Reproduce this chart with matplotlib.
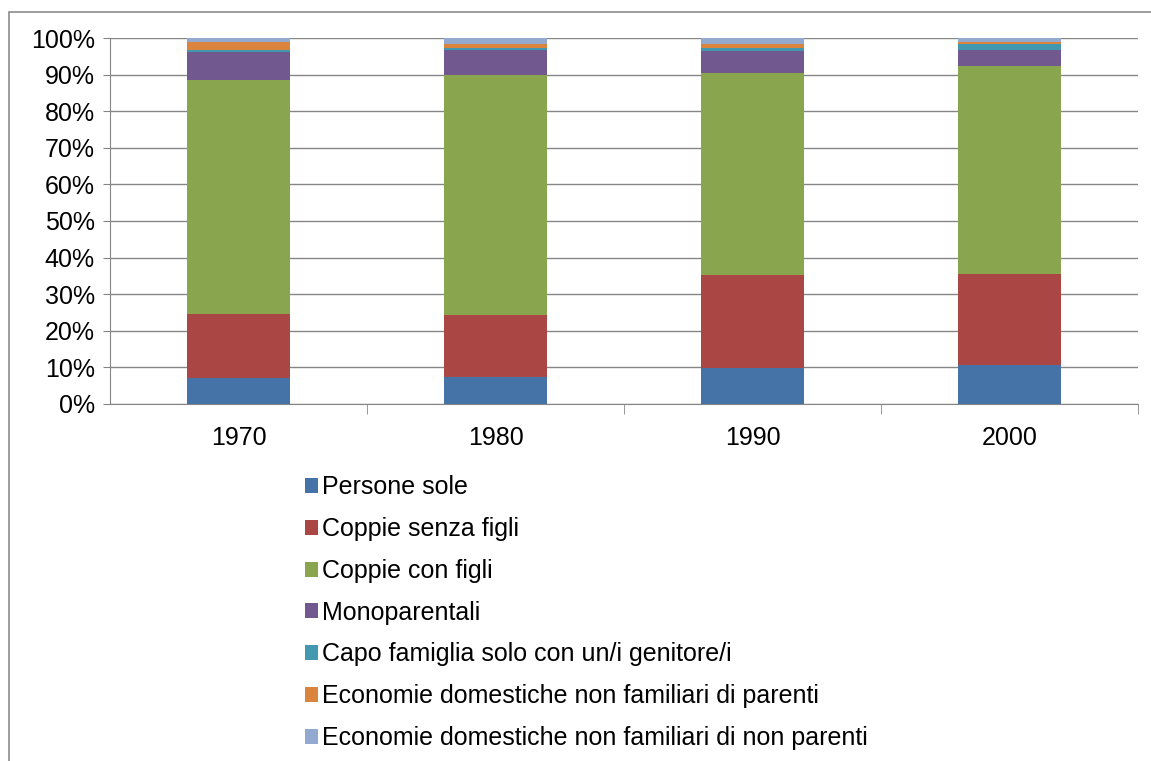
import matplotlib
matplotlib.use("Agg")
import matplotlib.pyplot as plt
import matplotlib.patches as mpatches
import numpy as np

years = ["1970", "1980", "1990", "2000"]
series_names = [
    "Persone sole",
    "Coppie senza figli",
    "Coppie con figli",
    "Monoparentali",
    "Capo famiglia solo con un/i genitore/i",
    "Economie domestiche non familiari di parenti",
    "Economie domestiche non familiari di non parenti",
]
persone_sole = [7.0, 7.3, 9.8, 10.6]
coppie_senza = [17.7, 17.0, 25.5, 25.0]
coppie_con = [63.7, 65.7, 55.2, 56.7]
monoparentali = [7.9, 6.8, 5.9, 4.5]
capo_famiglia = [0.5, 0.5, 0.8, 1.5]
non_fam_parenti = [2.0, 1.1, 1.1, 0.6]
non_fam_non_parenti = [1.2, 1.6, 1.7, 1.1]
colors = ["#4572A7", "#AA4643", "#89A54E", "#71588F", "#4198AF", "#DB843D", "#93A9CF"]

data = [persone_sole, coppie_senza, coppie_con, monoparentali,
        capo_famiglia, non_fam_parenti, non_fam_non_parenti]

W, H = 1151, 761
fig = plt.figure(figsize=(W / 100, H / 100), dpi=100)
plt.rcParams['font.family'] = ['Liberation Sans', 'DejaVu Sans']
FS = 18

# outer chart border
fig.patches.append(mpatches.Rectangle((9 / W, -0.1), 1.2, 1.1 - 12 / H, transform=fig.transFigure,
                                      fill=False, edgecolor="#8c8c8c", linewidth=1.2))

ax = fig.add_axes([110 / W, 1 - 404 / H, (1138 - 110) / W, (404 - 38) / H])
x = np.arange(len(years))
bottom = np.zeros(len(years))
handles = []
for name, vals, c in zip(series_names, data, colors):
    b = ax.bar(x, vals, bottom=bottom, width=0.4, color=c, label=name, zorder=3)
    bottom += np.array(vals)
    handles.append(b)

ax.set_xlim(-0.5, len(years) - 0.5)
ax.set_ylim(0, 100)
ax.set_yticks(np.arange(0, 101, 10))
ax.set_yticklabels([f"{v}%" for v in range(0, 101, 10)], fontsize=FS)
ax.set_xticks(x)
ax.set_xticklabels(years, fontsize=FS)
ax.tick_params(axis='x', length=0, pad=16)
ax.tick_params(axis='y', length=5, color="#868686", pad=6)
ax.set_xticks(np.arange(0.5, len(years), 1), minor=True)
ax.tick_params(axis='x', which='minor', length=7, color="#868686")
ax.yaxis.grid(True, color="#868686", linewidth=1, zorder=0)
for s in ["top", "right"]:
    ax.spines[s].set_visible(False)
for s in ["left", "bottom"]:
    ax.spines[s].set_color("#868686")
ax.set_axisbelow(True)

leg = fig.legend(handles=handles, labels=series_names, loc="upper left",
                 bbox_to_anchor=(292 / W, 1 - 463 / H), frameon=False,
                 fontsize=FS, handlelength=0.55, handleheight=0.55,
                 handletextpad=0.15, labelspacing=0.71, borderpad=0)

fig.savefig("out.png", dpi=100)
